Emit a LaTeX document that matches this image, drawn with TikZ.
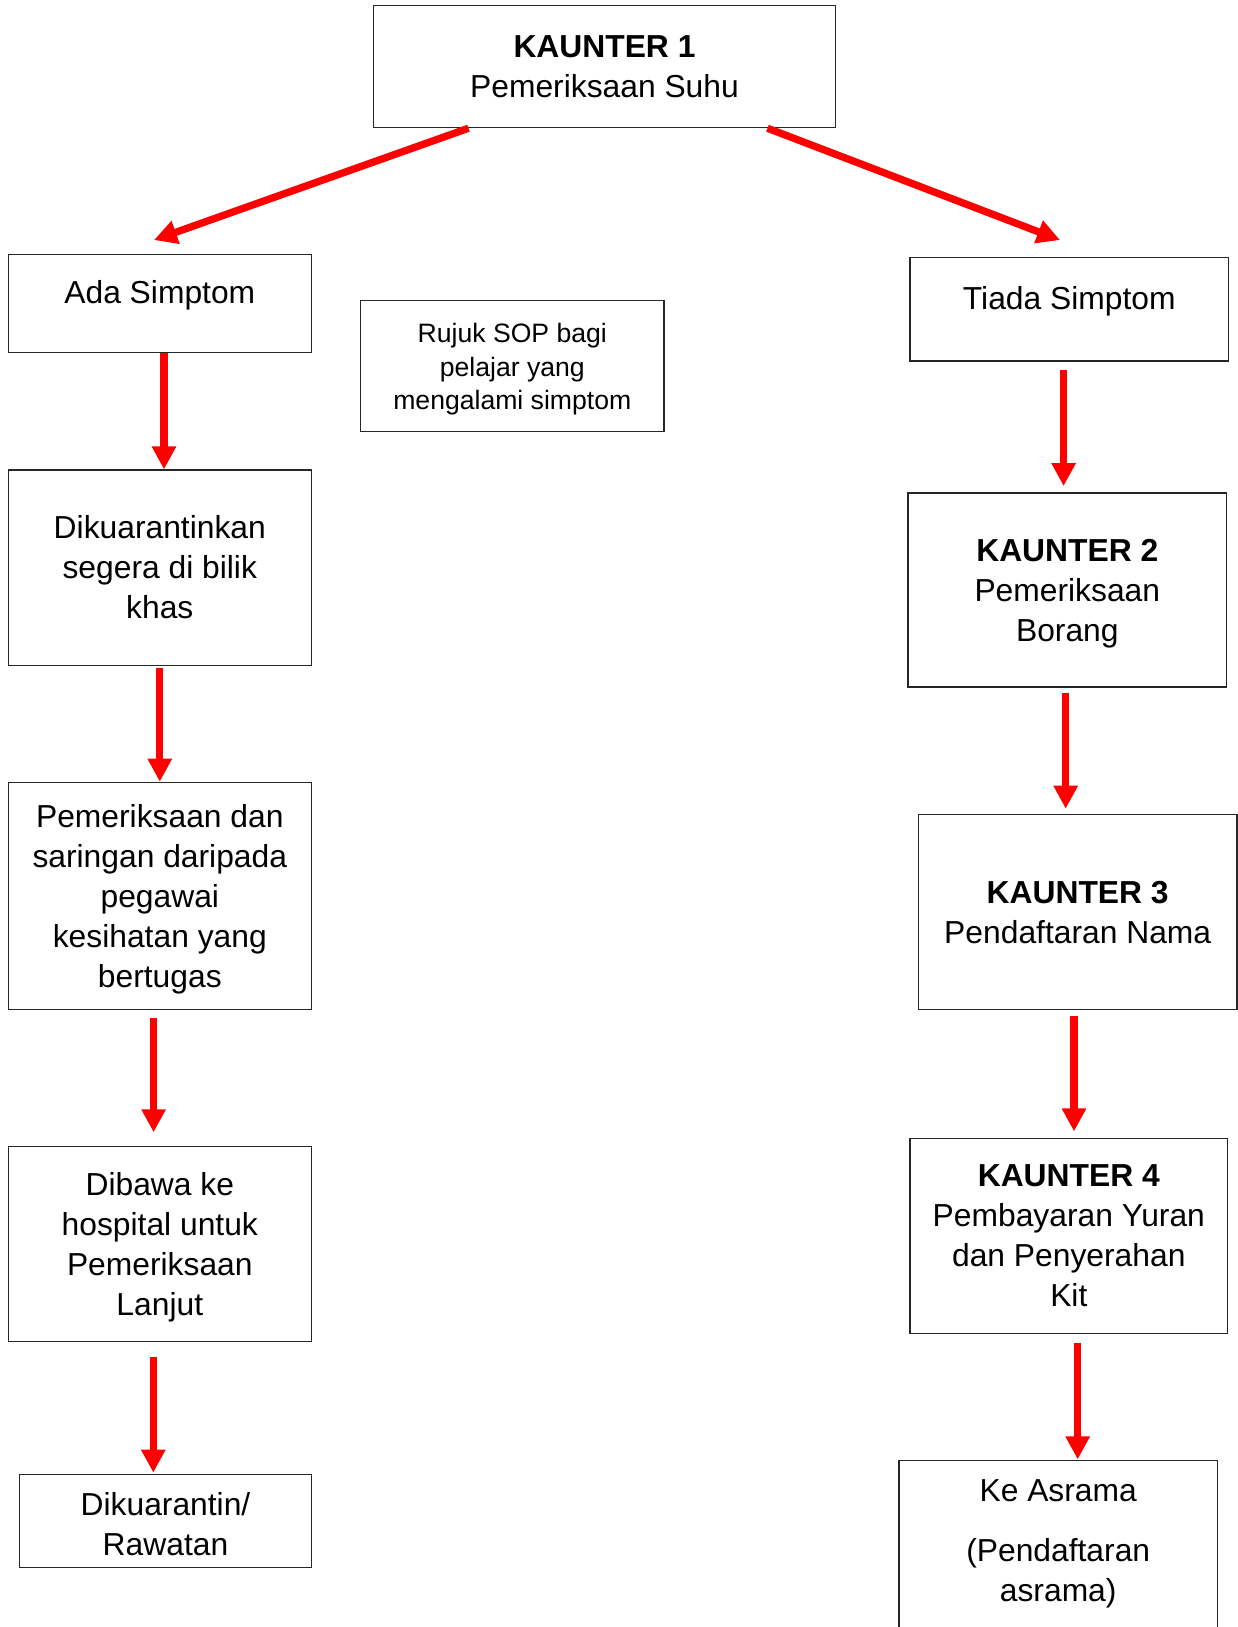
\documentclass[tikz,border=0pt]{standalone}
\usepackage{fontspec}
\setmainfont{Liberation Sans}
\usetikzlibrary{arrows.meta}
\begin{document}
\begin{tikzpicture}[x=1pt,y=-1pt,
  box/.style={draw=black!85,line width=1.3pt,rectangle,inner sep=0pt,align=center,
    font=\fontsize{31.8}{40}\selectfont},
  txt/.style={inner sep=0pt,align=center,font=\fontsize{31.8}{40}\selectfont},
  smalltxt/.style={txt,font=\fontsize{26.6}{33.2}\selectfont},
  arr/.style={draw=red,line width=7.3pt,-{Triangle[width=23pt,length=23pt]},red}]
\useasboundingbox (0,0) rectangle (1238,1627);
\clip (0,0) rectangle (1238,1627);

% boxes
\node[box,minimum width=461.8pt,minimum height=122.4pt] (k1) at (604.5,66.4) {\textbf{KAUNTER 1}\\Pemeriksaan Suhu};
\node[box,minimum width=303pt,minimum height=98.6pt] (ada) at (159.8,303.5) {};
\node[txt] (adat) at (159.8,295.7) {Ada Simptom};
\node[box,minimum width=303.3pt,minimum height=131pt] (rujuk) at (512.3,366.2) {};
\node[smalltxt] (rujukt) at ([yshift=-3pt]rujuk.center) {Rujuk SOP bagi\\pelajar yang\\mengalami simptom};
\node[box,minimum width=318.7pt,minimum height=103.6pt] (tiada) at (1069.3,309.2) {};
\node[txt] (tiadat) at (1069.3,300.9) {Tiada Simptom};

\node[box,minimum width=303pt,minimum height=195.2pt] (dik) at (159.8,567.6) {Dikuarantinkan\\segera di bilik\\khas};
\node[box,minimum width=303pt,minimum height=227.3pt] (pem) at (159.8,896) {};
\node[txt] (pemt) at ([yshift=-3pt]pem.center) {Pemeriksaan dan\\saringan daripada\\pegawai\\kesihatan yang\\bertugas};
\node[box,minimum width=303pt,minimum height=195.1pt] (dib) at (159.8,1244.2) {};
\node[txt] (dibt) at ([yshift=-3pt]dib.center) {Dibawa ke\\hospital untuk\\Pemeriksaan\\Lanjut};
\node[box,minimum width=292.4pt,minimum height=93.4pt] (dikr) at (165.5,1521) {};
\node[txt] (dikrt) at ([yshift=-3pt]dikr.center) {Dikuarantin/\\Rawatan};

\node[box,minimum width=318.6pt,minimum height=194pt] (k2) at (1067.3,590) {};
\node[txt] (k2t) at ([yshift=-4pt]k2.center) {\textbf{KAUNTER 2}\\Pemeriksaan\\Borang};
\node[box,minimum width=318.6pt,minimum height=195.1pt] (k3) at (1077.7,912.1) {\textbf{KAUNTER 3}\\Pendaftaran Nama};
\node[box,minimum width=317.6pt,minimum height=195.1pt] (k4) at (1068.8,1236) {\textbf{KAUNTER 4}\\Pembayaran Yuran\\dan Penyerahan\\Kit};
\node[box,minimum width=318.3pt,minimum height=239.3pt] (asr) at (1058.2,1580.4) {};
\node[txt] (asr1) at (1058.2,1491) {Ke Asrama};
\node[txt] (asr2) at (1058.2,1573.5) {(Pendaftaran\\asrama)};

% arrows
\draw[arr] ([xshift=-136pt]k1.south) -- ([xshift=-5.8pt,yshift=13.5pt]ada.north);
\draw[arr] ([xshift=163pt]k1.south) -- ([xshift=-9.3pt,yshift=16.7pt]tiada.north);

\draw[arr] ([xshift=4.2pt]ada.south) -- ([xshift=4.2pt]dik.north);
\draw[arr] ([yshift=-2pt]dik.south) -- (pem.north);
\draw[arr] ([xshift=-6.2pt,yshift=-7.3pt]pem.south) -- ([xshift=-6.2pt,yshift=13.7pt]dib.north);
\draw[arr] ([xshift=-6.5pt,yshift=-14.2pt]dib.south) -- ([xshift=-12.2pt,yshift=1pt]dikr.north);

\draw[arr] ([xshift=-5.7pt,yshift=-8.4pt]tiada.south) -- ([xshift=-3.7pt,yshift=6.3pt]k2.north);
\draw[arr] ([xshift=-1.6pt,yshift=-5pt]k2.south) -- ([xshift=-12pt,yshift=5.2pt]k3.north);
\draw[arr] ([xshift=-3.7pt,yshift=-5.3pt]k3.south) -- ([xshift=5.2pt,yshift=6.4pt]k4.north);
\draw[arr] ([xshift=8.9pt,yshift=-9.2pt]k4.south) -- ([xshift=19.5pt,yshift=0.7pt]asr.north);
\end{tikzpicture}
\end{document}
